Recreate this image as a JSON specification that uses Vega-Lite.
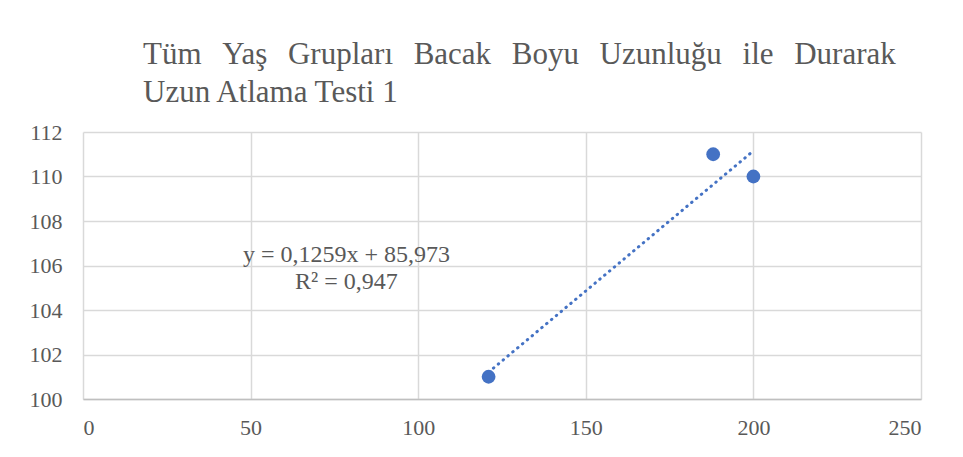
{
  "$schema": "https://vega.github.io/schema/vega-lite/v6.json",
  "width": 838,
  "height": 267,
  "autosize": {"type": "none"},
  "padding": {"left": 83, "top": 132, "right": 42, "bottom": 58},
  "background": "white",
  "config": {
    "font": "Liberation Serif",
    "view": {"stroke": null},
    "title": {"font": "Liberation Serif"},
    "text": {"font": "Liberation Serif"},
    "axis": {
      "labelFont": "Liberation Serif",
      "labelFontSize": 22,
      "labelColor": "#595959",
      "gridColor": "#d9d9d9",
      "gridWidth": 1.5,
      "ticks": false,
      "title": null
    }
  },
  "title": {
    "text": ["Tüm\u00a0\u00a0\u2006Yaş\u00a0\u00a0\u2006Grupları\u00a0\u00a0\u2006Bacak\u00a0\u00a0\u2006Boyu\u00a0\u00a0\u2006Uzunluğu\u00a0\u00a0\u2006ile\u00a0\u00a0\u2006Durarak", "Uzun Atlama Testi 1"],
    "anchor": "start",
    "frame": "group",
    "dx": 60,
    "offset": 12,
    "font": "Liberation Serif",
    "fontSize": 31,
    "fontWeight": "normal",
    "color": "#595959",
    "lineHeight": 38
  },
  "datasets": {
    "points": [
      {"x": 121, "y": 101},
      {"x": 188, "y": 111},
      {"x": 200, "y": 110}
    ],
    "label": [
      {"x": 78.6, "y": 106.47, "t": "y = 0,1259x + 85,973"},
      {"x": 78.6, "y": 105.26, "t": "R² = 0,947"}
    ]
  },
  "layer": [
    {
      "data": {"name": "points"},
      "transform": [{"regression": "y", "on": "x", "method": "linear"}],
      "mark": {"type": "line", "color": "#4472C4", "strokeWidth": 3, "strokeDash": [0.5, 5.8], "strokeCap": "round"},
      "encoding": {
        "x": {"field": "x", "type": "quantitative", "scale": {"domain": [0, 250], "nice": false, "zero": false},
          "axis": {"values": [0, 50, 100, 150, 200, 250], "domain": true, "domainColor": "#bfbfbf", "domainWidth": 1.5, "labelPadding": 18, "labelFont": "Liberation Serif"}},
        "y": {"field": "y", "type": "quantitative", "scale": {"domain": [100, 112], "nice": false, "zero": false},
          "axis": {"values": [100, 102, 104, 106, 108, 110, 112], "domain": false, "labelPadding": 21, "labelFont": "Liberation Serif"}}
      }
    },
    {
      "data": {"name": "points"},
      "mark": {"type": "circle", "color": "#4472C4", "opacity": 1, "size": 190},
      "encoding": {
        "x": {"field": "x", "type": "quantitative"},
        "y": {"field": "y", "type": "quantitative"}
      }
    },
    {
      "data": {"name": "label"},
      "mark": {"type": "text", "font": "Liberation Serif", "fontSize": 24, "color": "#595959", "align": "center", "baseline": "middle"},
      "encoding": {
        "x": {"field": "x", "type": "quantitative"},
        "y": {"field": "y", "type": "quantitative"},
        "text": {"field": "t"}
      }
    }
  ]
}
